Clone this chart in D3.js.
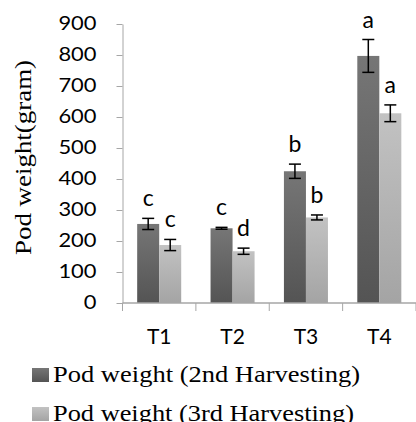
<!DOCTYPE html>
<html>
	<head>
		<meta charset="utf-8">
		<title>Pod weight</title>
		<script src="https://d3js.org/d3.v7.min.js"></script>
		<style>
			body { margin: 0; background: #fff; }
		</style>
	</head>
	<body>
		<script>

		var categories = ["T1", "T2", "T3", "T4"];
		var seriesNames = ["Pod weight (2nd Harvesting)", "Pod weight (3rd Harvesting)"];
		var harvest2 = [255, 241, 425, 797];
		var harvest3 = [187, 167, 276, 612];
		var err2 = [18, 3, 23, 53];
		var err3 = [18, 10, 8, 27];
		var letters2 = ["c", "c", "b", "a"];
		var letters3 = ["c", "d", "b", "a"];
		var yTicks = [0, 100, 200, 300, 400, 500, 600, 700, 800, 900];

		var width = 416, height = 422;
		var sans = "Lato, 'Open Sans', sans-serif";
		var serif = "'Liberation Serif', 'Times New Roman', serif";

		var svg = d3.select("body")
			.append("svg")
			.attr("width", width)
			.attr("height", height);

		// gradients for bars
		var defs = svg.append("defs");
		var grads = [["g2", "#767676", "#545454"], ["g3", "#c2c2c2", "#a4a4a4"]];
		grads.forEach(function(g){
			var lg = defs.append("linearGradient")
				.attr("id", g[0])
				.attr("x1", 0).attr("y1", 0).attr("x2", 0).attr("y2", 1);
			lg.append("stop").attr("offset", "0%").attr("stop-color", g[1]);
			lg.append("stop").attr("offset", "100%").attr("stop-color", g[2]);
		});

		var x = d3.scaleBand()
			.domain(categories)
			.range([122.5, 416])
			.padding(0);

		var x1 = d3.scaleBand()
			.domain([0, 1])
			.range([x.bandwidth() * 0.2, x.bandwidth() * 0.8]);

		var y = d3.scaleLinear()
			.domain([0, 900])
			.range([303, 24]);

		// y axis
		var yAxis = svg.append("g")
			.attr("transform", "translate(122.5,0)")
			.call(d3.axisLeft(y).tickValues(yTicks).tickSize(6).tickSizeOuter(0).tickPadding(20));
		yAxis.selectAll("path, line").attr("stroke", "#a6a6a6").attr("stroke-width", 1);
		yAxis.selectAll("text")
			.style("font-family", sans)
			.style("font-size", "18.5px")
			.attr("fill", "#000")
			.attr("textLength", function(d){ return String(d).length * 12.7; })
			.attr("lengthAdjust", "spacingAndGlyphs");

		var rows = [
			{vals: harvest2, errs: err2, lets: letters2, fill: "url(#g2)"},
			{vals: harvest3, errs: err3, lets: letters3, fill: "url(#g3)"}
		];

		rows.forEach(function(s, si){
			var g = svg.append("g");
			g.selectAll("rect")
				.data(s.vals)
				.enter().append("rect")
				.attr("x", function(d,i){ return x(categories[i]) + x1(si); })
				.attr("y", function(d){ return y(d); })
				.attr("width", x1.bandwidth())
				.attr("height", function(d){ return y(0) - y(d); })
				.attr("fill", s.fill);
		});

		// x axis line and boundary ticks
		svg.append("line")
			.attr("x1", x.range()[0]).attr("x2", x.range()[1])
			.attr("y1", y(0)).attr("y2", y(0))
			.attr("stroke", "#a6a6a6").attr("stroke-width", 1.5);
		var bounds = categories.map(function(c){ return x(c); }).concat([x.range()[1]]);
		svg.selectAll(".xtick")
			.data(bounds)
			.enter().append("line")
			.attr("class", "xtick")
			.attr("x1", function(d){ return d; }).attr("x2", function(d){ return d; })
			.attr("y1", y(0)).attr("y2", y(0) + 8)
			.attr("stroke", "#a6a6a6").attr("stroke-width", 1);

		var xAxis = svg.append("g")
			.attr("transform", "translate(0," + y(0) + ")")
			.call(d3.axisBottom(x).tickSize(0).tickPadding(26));
		xAxis.select(".domain").remove();
		xAxis.selectAll("text")
			.style("font-family", sans)
			.style("font-size", "21px")
			.attr("fill", "#000");

		// error bars and letters
		rows.forEach(function(s, si){
			var g = svg.append("g");
			var cx = function(i){ return x(categories[i]) + x1(si) + x1.bandwidth() / 2; };
			s.vals.forEach(function(v, i){
				var top = y(v + s.errs[i]), bot = y(v - s.errs[i]);
				g.append("line")
					.attr("x1", cx(i)).attr("x2", cx(i))
					.attr("y1", top).attr("y2", bot)
					.attr("stroke", "#000").attr("stroke-width", 1.5);
				[top, bot].forEach(function(yy){
					g.append("line")
						.attr("x1", cx(i) - 6).attr("x2", cx(i) + 6)
						.attr("y1", yy).attr("y2", yy)
						.attr("stroke", "#000").attr("stroke-width", 1.5);
				});
				g.append("text")
					.attr("x", cx(i))
					.attr("y", top - 12)
					.attr("text-anchor", "middle")
					.style("font-family", sans)
					.style("font-size", "23px")
					.text(s.lets[i]);
			});
		});

		// y title
		svg.append("text")
			.attr("transform", "translate(31,157.5) rotate(-90)")
			.attr("text-anchor", "middle")
			.style("font-family", serif)
			.style("font-size", "23.5px")
			.attr("textLength", 195)
			.attr("lengthAdjust", "spacingAndGlyphs")
			.text("Pod weight(gram)");

		// legend
		var legend = svg.selectAll(".leg")
			.data(seriesNames)
			.enter().append("g")
			.attr("class", "leg")
			.attr("transform", function(d,i){ return "translate(32," + (368 + i * 39) + ")"; });
		legend.append("rect")
			.attr("width", 17).attr("height", 14)
			.attr("fill", function(d,i){ return i == 0 ? "url(#g2)" : "url(#g3)"; });
		legend.append("text")
			.attr("x", 21)
			.attr("y", 13.7)
			.style("font-family", serif)
			.style("font-size", "23px")
			.attr("textLength", function(d,i){ return i == 0 ? 307 : 301; })
			.attr("lengthAdjust", "spacingAndGlyphs")
			.text(function(d){ return d; });

		</script>
	</body>
</html>
